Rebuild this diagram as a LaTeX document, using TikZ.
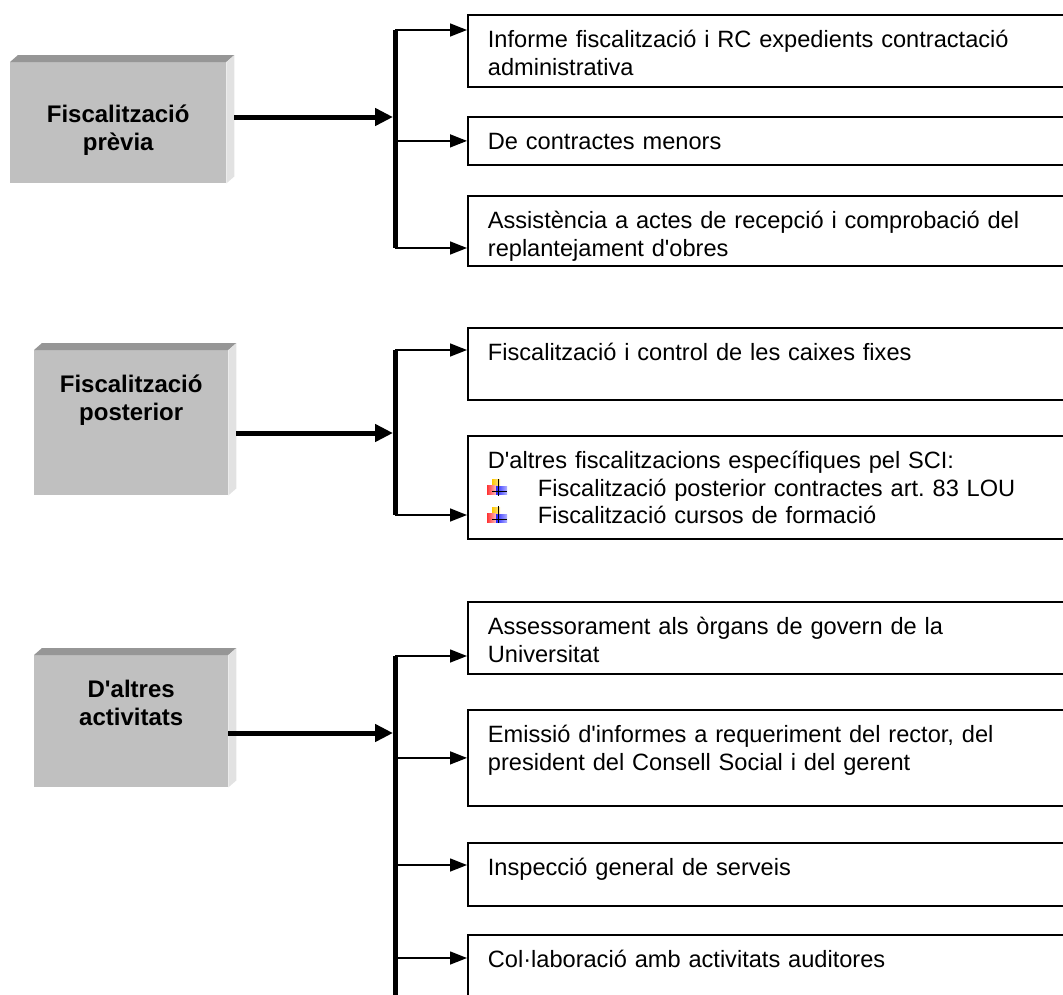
\documentclass[tikz,border=0pt]{standalone}
\usepackage{fontspec}
\setmainfont{Liberation Sans}[Ligatures=TeXOff]
\usetikzlibrary{arrows.meta,positioning}
\definecolor{boxfront}{RGB}{192,192,192}
\definecolor{boxtop}{RGB}{150,150,150}
\definecolor{boxside}{RGB}{226,226,226}
\definecolor{bulyellow}{RGB}{255,200,0}
\frenchspacing

\tikzset{
  bul/.pic={
    \shade[left color=bulyellow, right color=bulyellow!40] (5,8) rectangle (13,16);
    \shade[left color=red!80, right color=red!25] (0,1) rectangle (9,10);
    \shade[left color=blue!85, right color=blue!30] (9,1) rectangle (20,9);
    \draw[line width=1pt] (11,0) -- (11,17);
    \draw[line width=1pt] (5,4) -- (20,4);
  }
}

\begin{document}
\begin{tikzpicture}[x=1pt, y=1pt,
    head/.style={rectangle, fill=boxfront, anchor=north west, inner sep=0pt, align=center,
      font=\fontsize{24}{28.5}\selectfont\bfseries},
    item/.style={rectangle, draw, line width=1.8pt, anchor=north west, inner xsep=20pt, inner ysep=0pt,
      text width=620pt, align=left, text height=33pt, font=\fontsize{23.6}{27.5}\selectfont},
    bus/.style={line width=5pt},
    mainarr/.style={line width=5pt, -{Triangle[length=18pt,width=17pt]}},
    subarr/.style={line width=1.5pt, -{Triangle[length=17pt,width=13pt]}}
]
  \useasboundingbox (0,0) rectangle (1063,-994);
  \clip (0,0) rectangle (1063,-994);

  % left boxes
  \node[head, text width=216pt, text height=60pt, text depth=61pt] (pv) at (10,-62) {Fiscalització\\prèvia};
  \node[head, text width=194pt, text height=42pt, text depth=103pt] (ps) at (34,-350) {Fiscalització\\posterior};
  \node[head, text width=194pt, text height=42pt, text depth=90pt] (al) at (34,-655) {D'altres\\activitats};

  \fill[boxtop] (pv.north west) -- ++(8,7) -- ([shift={(8,7)}]pv.north east) -- (pv.north east) -- cycle;
  \fill[boxside] (pv.north east) -- ++(8,7) -- ([shift={(8,7)}]pv.south east) -- (pv.south east) -- cycle;
  \fill[boxtop] (ps.north west) -- ++(8,7) -- ([shift={(8,7)}]ps.north east) -- (ps.north east) -- cycle;
  \fill[boxside] (ps.north east) -- ++(8,7) -- ([shift={(8,7)}]ps.south east) -- (ps.south east) -- cycle;
  \fill[boxtop] (al.north west) -- ++(8,7) -- ([shift={(8,7)}]al.north east) -- (al.north east) -- cycle;
  \fill[boxside] (al.north east) -- ++(8,7) -- ([shift={(8,7)}]al.south east) -- (al.south east) -- cycle;

  % right boxes
  \node[item, text depth=39pt] (inf) at (467,-14) {Informe fiscalització i RC expedients contractació\\administrativa};
  \node[item, text depth=15pt] (men) at (467,-116) {De contractes menors};
  \node[item, text depth=37pt] (ass) at (467,-195) {Assistència a actes de recepció i comprobació del\\replantejament d'obres};

  \node[item, text depth=39pt] (cai) at (467,-327) {Fiscalització i control de les caixes fixes};
  \node[item, text depth=70pt] (alt) at (467,-435) {D'altres fiscalitzacions específiques pel SCI:\\\hspace*{50pt}Fiscalització posterior contractes art. 83 LOU\\\hspace*{50pt}Fiscalització cursos de formació};
  \pic at (487,-495.5) {bul};
  \pic at (487,-523) {bul};

  \node[item, text depth=39pt] (ase) at (467,-601) {Assessorament als òrgans de govern de la\\Universitat};
  \node[item, text depth=63pt] (emi) at (467,-709) {Emissió d'informes a requeriment del rector, del\\president del Consell Social i del gerent};
  \node[item, text depth=30pt] (ins) at (467,-842) {Inspecció general de serveis};
  \node[item, text depth=39pt] (col) at (467,-934) {Col·laboració amb activitats auditores};

  % first group
  \coordinate (b1t) at (395,-30);
  \coordinate (b1b) at (395,-248);
  \coordinate (b1m) at (393,-117);
  \draw[bus] (b1t) -- (b1b);
  \draw[mainarr] ([xshift=8pt]pv.east |- b1m) -- (b1m);
  \draw[subarr] (b1t) -- (inf.west |- b1t);
  \draw[subarr] (men.west -| b1t) -- (men.west);
  \draw[subarr] (b1b) -- (ass.west |- b1b);

  % second group
  \coordinate (b2t) at (395,-350);
  \coordinate (b2b) at (395,-515);
  \coordinate (b2m) at (393,-433);
  \draw[bus] (b2t) -- (b2b);
  \draw[mainarr] ([xshift=8pt]ps.east |- b2m) -- (b2m);
  \draw[subarr] (b2t) -- (cai.west |- b2t);
  \draw[subarr] (b2b) -- (alt.west |- b2b);

  % third group
  \coordinate (b3t) at (395,-656);
  \coordinate (b3b) at (395,-1000);
  \coordinate (b3m) at (393,-733);
  \coordinate (b3h) at (395,-865);
  \coordinate (b3c) at (395,-958);
  \draw[bus] (b3t) -- (b3b);
  \draw[mainarr] (al.east |- b3m) -- (b3m);
  \draw[subarr] (b3t) -- (ase.west |- b3t);
  \draw[subarr] (emi.west -| b3t) -- (emi.west);
  \draw[subarr] (b3h) -- (ins.west |- b3h);
  \draw[subarr] (b3c) -- (col.west |- b3c);
\end{tikzpicture}
\end{document}
